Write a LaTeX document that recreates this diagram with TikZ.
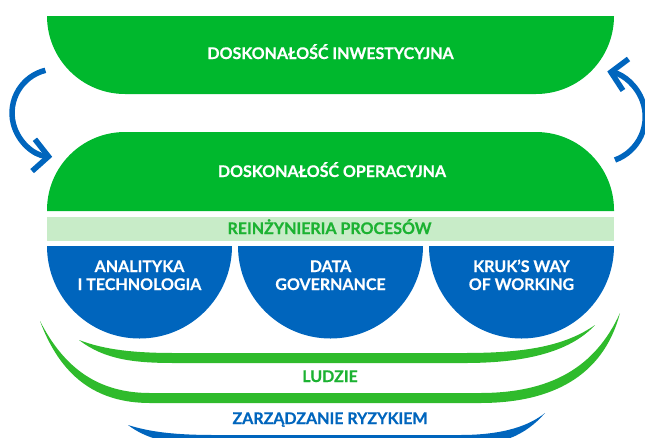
\documentclass[tikz,border=0pt]{standalone}
\usepackage{fontspec}
\setmainfont{Lato}[BoldFeatures={FakeBold=0.6}]
\usetikzlibrary{arrows.meta}
\definecolor{kgreen}{RGB}{0,184,45}
\definecolor{kcres}{RGB}{47,187,44}
\definecolor{klight}{RGB}{200,236,200}
\definecolor{ktxtgreen}{RGB}{28,178,50}
\definecolor{kblue}{RGB}{0,101,189}
\begin{document}
\begin{tikzpicture}[x=1pt,y=-1pt,
  lbl/.style={font=\bfseries\fontsize{16}{18}\selectfont, anchor=base, inner sep=0pt},
  whitelbl/.style={lbl, text=white},
  pillarlbl/.style={whitelbl, align=center},
  cycle arrow/.style={draw=kblue, line width=5.5pt,
    -{Straight Barb[length=15pt,width=32pt,line width=5.5pt]}},
  greenfill/.style={fill=kgreen},
  bluefill/.style={fill=kblue}]
\useasboundingbox (0,0) rectangle (645,437);
\begin{scope}
\clip (0,0) rectangle (645,437);

% investment excellence
\path[greenfill] (47,16) -- (614,16) arc[start angle=0,end angle=90,radius=78]
  -- (125,94) arc[start angle=90,end angle=180,radius=78] -- cycle;
% operational excellence
\path[greenfill] (47,211) -- (47,210) arc[start angle=180,end angle=270,radius=78]
  -- (536,132) arc[start angle=270,end angle=360,radius=78] -- (614,211) -- cycle;
% process re-engineering band
\path[fill=klight] (47,217) rectangle (614,241);
% three pillars
\foreach \cx in {139.5,330.5,521.5}
  \path[bluefill] (\cx-92.5,246) arc[start angle=180,end angle=0,radius=92.5] -- cycle;

% people: two green crescents
\path[fill=kcres] (79,340) .. controls (105,360) and (135,363) .. (175,363)
  -- (465,363) .. controls (530,363) and (572,350) .. (595,325)
  .. controls (565,346) and (525,353) .. (465,353)
  -- (175,353) .. controls (135,353) and (105,350) .. (79,340) -- cycle;
\path[fill=kcres] (40,321) .. controls (60,375) and (95,403) .. (150,403)
  -- (480,403) .. controls (560,403) and (605,370) .. (620,313)
  .. controls (595,368) and (550,393) .. (480,393)
  -- (150,393) .. controls (100,393) and (65,370) .. (40,321) -- cycle;
% risk management: blue crescent
\path[bluefill] (128,425) .. controls (150,432) and (175,435) .. (215,435)
  -- (460,435) .. controls (505,435) and (530,425) .. (545,413)
  .. controls (525,436) and (500,446) .. (460,446)
  -- (215,446) .. controls (170,446) and (145,438) .. (128,425) -- cycle;
\end{scope}

% labels
\node[whitelbl] (inw) at (330.5,59) {DOSKONAŁOŚĆ INWESTYCYJNA};
\node[whitelbl] (oper) at (332,177) {DOSKONAŁOŚĆ OPERACYJNA};
\node[lbl, text=ktxtgreen] (rein) at (329.5,234) {REINŻYNIERIA PROCESÓW};
\node[pillarlbl] (ana) at (139.5,290) {ANALITYKA\\I TECHNOLOGIA};
\node[pillarlbl] (data) at (330.5,290) {DATA\\GOVERNANCE};
\node[pillarlbl] (kruk) at (521.5,290) {KRUK’S WAY\\OF WORKING};
\node[lbl, text=ktxtgreen] (ludzie) at (330,382) {LUDZIE};
\node[lbl, text=kblue] (ryzyko) at (330,424) {ZARZĄDZANIE RYZYKIEM};

% cycle arrows between the two excellence levels
\coordinate (down start) at (45.4,70.3);
\coordinate (up start) at (615,160);
\draw[cycle arrow] (down start) arc[start angle=256,end angle=95,radius=44];
\draw[cycle arrow] (up start) arc[start angle=70,end angle=-80,radius=46];
\end{tikzpicture}
\end{document}
